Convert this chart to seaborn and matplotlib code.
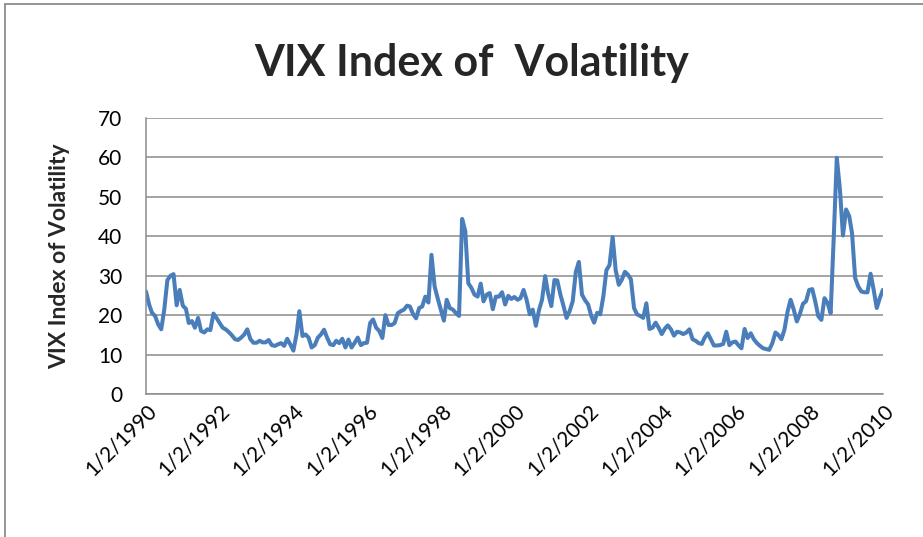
import numpy as np
import pandas as pd
import seaborn as sns
import matplotlib.pyplot as plt
import matplotlib.transforms as mtransforms
from matplotlib.patches import Rectangle

# monthly VIX readings, Jan 1990 .. Jan 2010
vix_1990 = [26.0, 22.7, 20.6, 19.8, 17.7, 16.4, 21.4, 28.9, 30.0, 30.4, 22.5, 26.4]
vix_1991 = [22.4, 21.6, 18.0, 18.5, 16.8, 19.3, 16.0, 15.6, 16.4, 16.2, 20.4, 19.3]
vix_1992 = [18.0, 16.8, 16.4, 15.7, 14.9, 13.9, 13.7, 14.3, 15.1, 16.4, 13.9, 13.0]
vix_1993 = [13.0, 13.5, 13.1, 13.1, 13.7, 12.4, 12.2, 12.6, 12.9, 12.2, 14.0, 12.6]
vix_1994 = [11.0, 15.1, 21.0, 14.7, 15.1, 14.3, 11.8, 12.4, 14.3, 15.1, 16.3, 14.3]
vix_1995 = [12.6, 12.4, 13.5, 12.9, 14.0, 11.8, 13.8, 11.8, 13.0, 14.3, 12.4, 12.9]
vix_1996 = [13.0, 18.0, 18.9, 16.8, 16.0, 14.2, 20.0, 17.5, 17.5, 18.0, 20.5, 21.0]
vix_1997 = [21.4, 22.4, 22.2, 20.3, 19.2, 21.8, 22.2, 24.7, 23.2, 35.3, 27.3, 24.3]
vix_1998 = [21.5, 18.6, 23.9, 21.8, 21.4, 20.5, 19.8, 44.4, 41.3, 28.1, 26.9, 25.2]
vix_1999 = [24.7, 28.0, 23.5, 25.2, 25.6, 21.5, 24.7, 24.7, 25.8, 22.7, 24.9, 24.1]
vix_2000 = [24.6, 23.9, 24.3, 26.4, 23.9, 20.2, 21.4, 17.3, 21.3, 23.9, 29.9, 25.4]
vix_2001 = [22.3, 28.9, 28.8, 25.2, 22.4, 19.3, 21.0, 23.5, 31.0, 33.5, 25.2, 23.8]
vix_2002 = [22.7, 19.8, 18.1, 20.6, 20.2, 24.8, 31.4, 32.7, 39.8, 31.4, 27.7, 29.0]
vix_2003 = [31.0, 30.2, 29.1, 21.8, 20.2, 19.8, 19.3, 23.0, 16.5, 16.8, 18.1, 16.8]
vix_2004 = [15.2, 16.6, 17.4, 16.4, 14.8, 15.8, 15.6, 15.2, 15.6, 16.4, 13.9, 13.5]
vix_2005 = [12.9, 12.7, 14.3, 15.4, 13.9, 12.3, 12.3, 12.4, 12.7, 15.8, 12.4, 13.1]
vix_2006 = [13.3, 12.3, 11.6, 16.5, 14.2, 15.4, 13.9, 12.9, 12.2, 11.6, 11.4, 11.2]
vix_2007 = [12.9, 15.6, 15.0, 13.9, 16.3, 20.9, 23.9, 21.4, 18.4, 20.3, 22.9, 23.5]
vix_2008 = [26.4, 26.6, 23.5, 19.7, 18.8, 24.3, 23.1, 20.5, 40.0, 59.9, 51.9, 40.2]
vix_2009 = [46.8, 45.1, 40.8, 29.4, 27.3, 26.0, 25.8, 25.8, 30.5, 26.5, 21.8, 24.3]
vix_2010 = [26.4]

vix = (vix_1990 + vix_1991 + vix_1992 + vix_1993 + vix_1994 + vix_1995 + vix_1996
       + vix_1997 + vix_1998 + vix_1999 + vix_2000 + vix_2001 + vix_2002 + vix_2003
       + vix_2004 + vix_2005 + vix_2006 + vix_2007 + vix_2008 + vix_2009 + vix_2010)

dates = pd.date_range("1990-01-01", periods=len(vix), freq="MS")
df = pd.DataFrame({"date": dates, "vix": vix})

tick_years = list(range(1990, 2011, 2))
tick_labels = [f"1/2/{y}" for y in tick_years]

sns.set_theme(style="white")
plt.rcParams["font.family"] = ["Lato", "DejaVu Sans"]

fig = plt.figure(figsize=(9.23, 5.37), dpi=100)
ax = fig.add_axes([146 / 923, 1 - 394 / 537, 737 / 923, 276 / 537])

sns.lineplot(data=df, x="date", y="vix", ax=ax, color="#4A7EBB", linewidth=2.9)

ax.set_ylim(0, 70)
ax.set_yticks(range(0, 71, 10))
ax.set_xlim(dates[0], dates[-1])
ax.set_xticks([pd.Timestamp(f"{y}-01-02") for y in tick_years])
ax.set_xticklabels(tick_labels, rotation=45, ha="right", rotation_mode="anchor")

# excel puts the end of each slanted label a little right of its tick
shift = mtransforms.ScaledTranslation(8 / 100, 4 / 100, fig.dpi_scale_trans)
for lab in ax.get_xticklabels():
    lab.set_transform(lab.get_transform() + shift)

ax.grid(axis="y", color="#8c8c8c", linewidth=1.1)
ax.grid(axis="x", visible=False)
for side in ["top", "right"]:
    ax.spines[side].set_visible(False)
for side in ["left", "bottom"]:
    ax.spines[side].set_color("#8c8c8c")
    ax.spines[side].set_linewidth(1.1)

ax.tick_params(axis="y", length=0, pad=17, labelsize=15, labelcolor="black")
ax.tick_params(axis="x", length=0, pad=5, labelsize=15, labelcolor="black")

ax.set_xlabel("")
ax.set_ylabel("VIX Index of Volatility", fontsize=16.5, fontweight="bold")
ax.yaxis.set_label_coords(-(146 - 70) / 737, 0.5)

fig.text(472 / 923, 1 - 63 / 537, "VIX Index of  Volatility", ha="center", va="center",
         fontsize=31, fontweight="bold")

# chart frame, cut off at the right and bottom like the reference
fig.patches.append(Rectangle((5 / 923, -0.2), 1.5, 1.2 - 4 / 537, fill=False,
                             edgecolor="#8c8c8c", linewidth=1.3,
                             transform=fig.transFigure, figure=fig))

fig.savefig("out.png", dpi=100, facecolor="white")
